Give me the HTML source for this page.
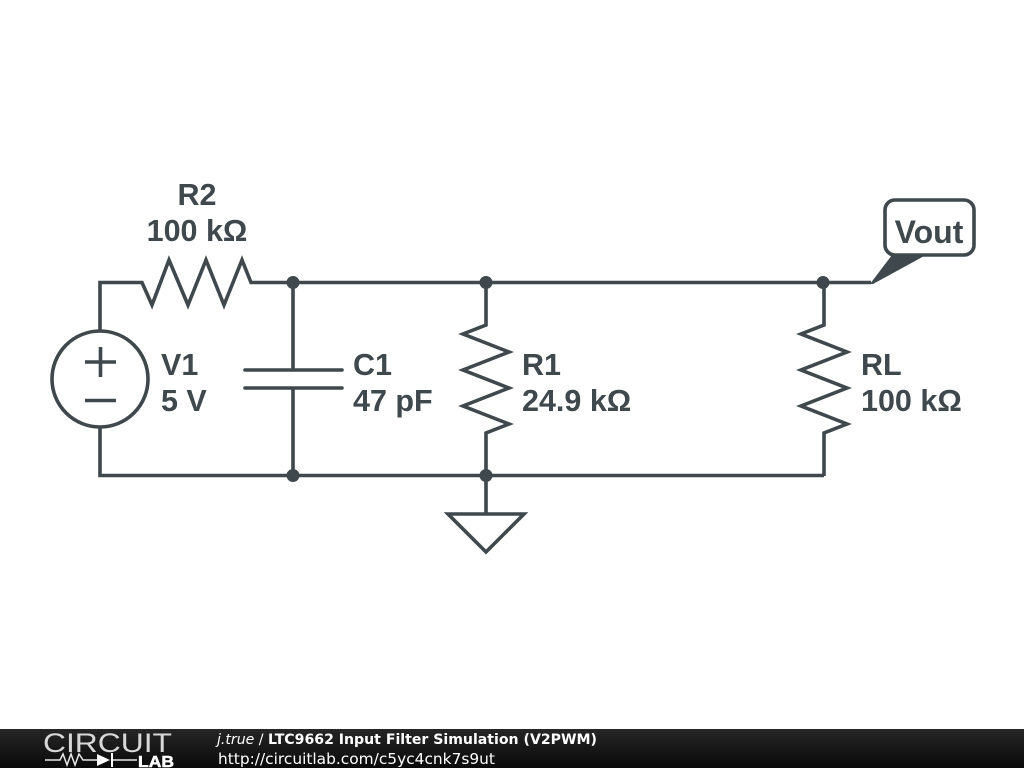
<!DOCTYPE html>
<html><head><meta charset="utf-8"><style>
html,body{margin:0;padding:0;background:#fff;width:1024px;height:768px;overflow:hidden}
svg{display:block}
.t{font-family:"Liberation Sans",sans-serif;font-weight:bold;font-size:30.500px;fill:#3f484d}
</style></head><body>
<svg width="1024" height="768" viewBox="0 0 1024 768" xmlns="http://www.w3.org/2000/svg">
<defs><linearGradient id="g" x1="0" y1="0" x2="0" y2="1"><stop offset="0" stop-color="#262626"/><stop offset="1" stop-color="#0a0a0a"/></linearGradient></defs>
<rect width="1024" height="768" fill="#fff"/>
<g fill="none" stroke="#3f484d" stroke-width="3.600" stroke-linejoin="miter" stroke-linecap="butt">
<path d="M100 331V282.500H142L152 305L169 260L188 305L206 260L224 305L242 260L251 282.500H871"/>
<path d="M100 428V475.500H824"/>
<circle cx="100" cy="379" r="48"/>
<path d="M85 362H116M100.500 347V377M85 400.500H116"/>
<path d="M293 282V370M293 388V475"/>
<path d="M245 370H342M245 388H342" stroke-linecap="round"/>
<path d="M486 282V325L463 334L509 352L463 370L509 388L463 406L509 424L486 433V514"/>
<path d="M824 282V325L801 334L847 352L801 370L847 388L801 406L847 424L824 433V476"/>
<path d="M448 514H524L486 552Z"/>
<rect x="885" y="200" width="89" height="55" rx="10"/>
</g>
<g fill="#3f484d">
<circle cx="293" cy="282.500" r="6.500"/><circle cx="486" cy="282.500" r="6.500"/><circle cx="823" cy="282.500" r="6.500"/>
<circle cx="293" cy="475.500" r="6.500"/><circle cx="486" cy="475.500" r="6.500"/>
<path d="M870 284L892 255H926L873 284Z"/>
</g>
<g class="t">
<text x="197" y="205" text-anchor="middle" class="t">R2</text>
<text x="197" y="241" text-anchor="middle" class="t">100 kΩ</text>
<text x="161" y="375" class="t">V1</text>
<text x="161" y="411" class="t">5 V</text>
<text x="353" y="375" class="t">C1</text>
<text x="353" y="411" class="t">47 pF</text>
<text x="522" y="375" class="t">R1</text>
<text x="522" y="411" class="t">24.9 kΩ</text>
<text x="861" y="375" class="t">RL</text>
<text x="861" y="411" class="t">100 kΩ</text>
<text x="929" y="243" text-anchor="middle" class="t" style="font-size:32px">Vout</text>
</g>
<rect y="729" width="1024" height="39" fill="url(#g)"/>
<text x="43" y="752" font-family="Liberation Sans,sans-serif" font-size="27" fill="#d8d8d8" textLength="129" lengthAdjust="spacingAndGlyphs" style="font-weight:normal">CIRCUIT</text>
<path d="M45 760H60L63 754L67 765L71 754L75 765L79 754L83 760H97M113 760H137" fill="none" stroke="#e8e8e8" stroke-width="1.500"/>
<path d="M97 754L110 760L97 766Z" fill="#fff"/><path d="M112 753V767" stroke="#fff" stroke-width="2"/>
<text x="138" y="767" font-family="Liberation Sans,sans-serif" font-size="16" font-weight="bold" fill="#fff" stroke="#fff" stroke-width="0.500" textLength="36" lengthAdjust="spacingAndGlyphs">LAB</text>
<text x="217" y="744" font-family="DejaVu Sans,sans-serif" font-size="14.100" fill="#fff"><tspan font-style="italic">j.true</tspan> / <tspan font-weight="bold">LTC9662 Input Filter Simulation (V2PWM)</tspan></text>
<text x="218" y="764" font-family="DejaVu Sans,sans-serif" font-size="15.400" fill="#fff">http://circuitlab.com/c5yc4cnk7s9ut</text>
</svg>
</body></html>
